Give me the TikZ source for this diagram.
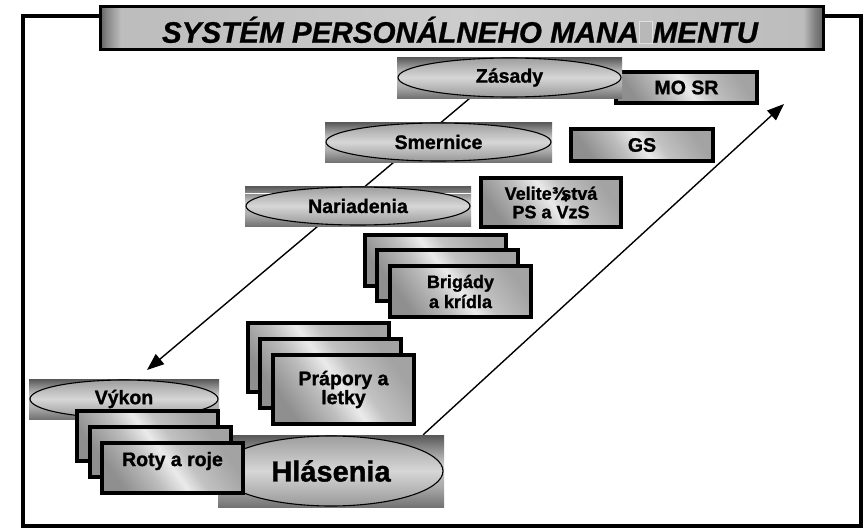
\documentclass[tikz,border=0pt]{standalone}
\usepackage{fontspec}
\setmainfont{Liberation Sans}[BoldFeatures={FakeBold=1.2},BoldItalicFeatures={FakeBold=0.8}]
\usetikzlibrary{shapes.geometric,arrows.meta,calc,backgrounds}
\pgfdeclarelayer{lines}
\pgfsetlayers{background,lines,main}

\pgfdeclarehorizontalshading{barshade}{100bp}{color(0bp)=(black!62); color(25bp)=(black!62); color(25.4bp)=(black!48); color(26.4bp)=(black!26); color(50bp)=(black!20); color(73.6bp)=(black!26); color(74.4bp)=(black!50); color(75bp)=(black!62); color(100bp)=(black!62)}
\pgfdeclareverticalshading{pillshade}{100bp}{color(0bp)=(black!55); color(25bp)=(black!55); color(40bp)=(black!32); color(55bp)=(black!22); color(75bp)=(black!66); color(100bp)=(black!66)}
\pgfdeclareverticalshading{ellshade}{100bp}{color(0bp)=(black!40); color(25bp)=(black!40); color(50bp)=(black!16); color(75bp)=(black!38); color(100bp)=(black!38)}
\pgfdeclarehorizontalshading{metalshade}{100bp}{color(0bp)=(black!44); color(25bp)=(black!44); color(40bp)=(black!26); color(50bp)=(black!8); color(58bp)=(black!24); color(75bp)=(black!36); color(100bp)=(black!36)}

\newcommand\missglyph{{\fboxsep=0pt\fboxrule=0.7pt\fcolorbox{black!12}{black!28}{\rule{0pt}{0.72em}\hspace{0.42em}}}}

\begin{document}
\begin{tikzpicture}[x=1pt,y=-1pt,
  lbl/.style={font=\fontsize{19.5}{20}\selectfont\bfseries, text=black},
  pill/.style={rectangle, shading=pillshade, inner sep=0pt},
  oval/.style={ellipse, draw=black, line width=1.1pt, shading=ellshade, inner sep=0pt, lbl},
  orgbox/.style={rectangle, draw=black, line width=4pt, shading=metalshade, shading angle=35, inner sep=0pt, minimum width=141pt, align=center, lbl},
  conn/.style={line width=1.4pt, -{Triangle[length=17pt,width=13pt]}},
  titlebar/.style={rectangle, draw=black, line width=3pt, shading=barshade, inner sep=0pt},
  frame/.style={line width=3.5pt}
]
\begin{pgfonlayer}{background}
\fill[white] (0,0) rectangle (867,530);
\end{pgfonlayer}
\useasboundingbox (0,0) rectangle (867,530);

% outer frame
\draw[frame] (23,16) rectangle (861,526);

% title bar
\node[titlebar, minimum width=723pt, minimum height=43pt] (bar) at (462,28) {};
\node[font=\fontsize{29.6}{30}\selectfont\bfseries\itshape] (title) at (460,30) {SYSTÉM PERSONÁLNEHO MANA\missglyph MENTU};

% MO SR behind Zasady
\node[orgbox, minimum height=31pt] (mosr) at (686.5,87.5) {MO SR};
\node[pill, minimum width=225pt, minimum height=41pt] (zasR) at (509.5,77.5) {};
\node[oval, minimum width=223pt, minimum height=39pt] (zas) at (zasR) {Zásady};

% Smernice
\node[pill, minimum width=227pt, minimum height=40pt] (smeR) at (438.5,142) {};
\node[oval, minimum width=225pt, minimum height=38pt] (sme) at (smeR) {Smernice};
\node[orgbox, minimum width=142pt, minimum height=32pt] (gs) at (642,145) {GS};

% Nariadenia
\node[pill, minimum width=226pt, minimum height=40pt] (nariR) at (358,206) {};
\draw[white, line width=1pt] ($(nariR.north west)+(0,8)$) -- ($(nariR.north east)+(0,8)$);
\node[oval, minimum width=224pt, minimum height=38pt] (nari) at (nariR) {Nariadenia};
\node[orgbox, minimum width=140pt, minimum height=49pt, font=\fontsize{18}{18.5}\selectfont\bfseries] (vel) at (551,202.5) {Velite¾\kern-0.3em stvá\\PS a VzS};

% Brigady stack
\node[orgbox, minimum height=51pt] (brig1) at (435,260.5) {};
\node[orgbox, minimum height=51pt] (brig2) at (447,275.5) {};
\node[orgbox, minimum height=51pt, font=\fontsize{18}{20}\selectfont\bfseries] (brig3) at (460.5,291.5) {Brigády\\a krídla};

% Prapory stack
\node[orgbox, minimum height=69pt] (prap1) at (318,357.5) {};
\node[orgbox, minimum height=69pt] (prap2) at (330,373.5) {};
\node[orgbox, minimum height=69pt, font=\fontsize{19.5}{19}\selectfont\bfseries] (prap3) at (343.5,389.5) {Prápory a\\letky};

% Hlasenia
\node[pill, minimum width=226pt, minimum height=72pt] (hlsR) at (331,471) {};
\node[oval, minimum width=224pt, minimum height=70pt, font=\fontsize{29}{30}\selectfont\bfseries] (hls) at (hlsR) {Hlásenia};

% Vykon
\node[pill, minimum width=190pt, minimum height=40pt] (vykR) at (124,399) {};
\node[oval, minimum width=188pt, minimum height=38pt] (vyk) at (vykR) {Výkon};

% Roty stack
\node[orgbox, minimum height=50pt] (roty1) at (147,436) {};
\node[orgbox, minimum height=50pt] (roty2) at (160,452) {};
\node[orgbox, minimum height=50pt] (roty3) at (172.5,468) {};
\node[lbl] (rotyT) at (172.5,461) {Roty a roje};

% connectors
\coordinate (vyktip) at (147,370);
\coordinate (uptip) at (784,104);
\begin{pgfonlayer}{lines}
\draw[conn] ($(zasR.south west)!0.324!(zasR.south east)$) -- (vyktip);
\draw[conn] ($(hlsR.north west)!0.907!(hlsR.north east)$) -- (uptip);
\end{pgfonlayer}
\end{tikzpicture}
\end{document}
